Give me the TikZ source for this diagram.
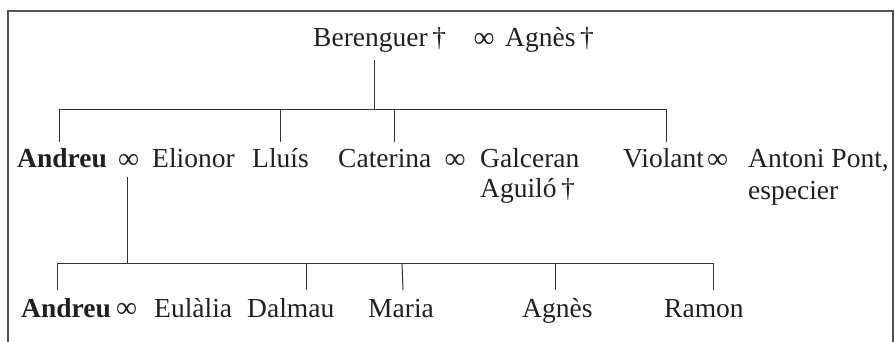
\documentclass[tikz,border=0pt]{standalone}
\usepackage{fontspec}
\setmainfont{Liberation Serif}
\definecolor{txt}{HTML}{231F20}
\definecolor{lnc}{HTML}{333333}
\definecolor{frc}{HTML}{555555}
\newcommand{\marr}{\resizebox{21pt}{!}{∞}}
\begin{document}
\begin{tikzpicture}[x=1pt,y=-1pt,
  nm/.style={anchor=base west,inner sep=0pt,text=txt,font=\fontsize{27.5}{31}\selectfont},
  bn/.style={nm,font=\fontsize{27.5}{31}\selectfont\bfseries},
  inf/.style={anchor=center,inner sep=0pt,text=txt,font=\fontsize{27.5}{31}\selectfont},
  ln/.style={draw=lnc,line width=1pt},
  fr/.style={draw=frc,line width=1.4pt}]
\useasboundingbox (0,0) rectangle (895,342);
% frame
\coordinate (fbl) at (8,342);
\coordinate (ftl) at (8,11);
\coordinate (ftr) at (893,11);
\coordinate (fbr) at (893,342);
\draw[fr] (fbl) -- (ftl) -- (ftr) -- (fbr);
% generation 1
\node[nm] (ber) at (313,47) {Berenguer\,†};
\node[inf] (inf0) at (484,40) {\marr};
\node[nm] (agn0) at (505,47) {Agnès\,†};
% generation 2
\node[bn] (and1) at (17,168) {Andreu};
\node[inf] (inf1) at (128.5,161) {\marr};
\node[nm] (eli) at (152,168) {Elionor};
\node[nm] (llu) at (252,168) {Lluís};
\node[nm] (cat) at (338,168) {Caterina};
\node[inf] (inf2) at (455,161) {\marr};
\node[nm] (gal) at (480,168) {Galceran};
\node[nm] (agu) at (480,198) {Aguiló\,†};
\node[nm] (vio) at (623,168) {Violant};
\node[inf] (inf3) at (717.5,161) {\marr};
\node[nm] (ant) at (748,168) {Antoni Pont,};
\node[nm] (esp) at (748,200) {especier};
% generation 3
\node[bn] (and2) at (21,317) {Andreu};
\node[inf] (inf4) at (126.5,310) {\marr};
\node[nm] (eul) at (154,317) {Eulàlia};
\node[nm] (dal) at (247,317) {Dalmau};
\node[nm] (mar) at (368,317) {Maria};
\node[nm] (agn1) at (522,317) {Agnès};
\node[nm] (ram) at (664,317) {Ramon};
% connectors generation 1 -> 2
\coordinate (s1t) at (374,60);
\coordinate (s1b) at (374,110);
\coordinate (a1t) at (59,110);  \coordinate (a1b) at (59,142);
\coordinate (l1t) at (280,110); \coordinate (l1b) at (280,142);
\coordinate (c1t) at (394,110); \coordinate (c1b) at (394,142);
\coordinate (v1t) at (666,110); \coordinate (v1b) at (666,142);
\draw[ln] (s1t) -- (s1b);
\draw[ln] (a1b) -- (a1t) -- (v1t) -- (v1b);
\draw[ln] (l1t) -- (l1b);
\draw[ln] (c1t) -- (c1b);
% connectors generation 2 -> 3
\coordinate (s2t) at (127,177);
\coordinate (s2b) at (127,263);
\coordinate (a2t) at (57,263);  \coordinate (a2b) at (57,290);
\coordinate (d2t) at (306,263); \coordinate (d2b) at (306,290);
\coordinate (m2t) at (402,263); \coordinate (m2b) at (403,290);
\coordinate (g2t) at (555,263); \coordinate (g2b) at (555,290);
\coordinate (r2t) at (713,263); \coordinate (r2b) at (713,290);
\draw[ln] (s2t) -- (s2b);
\draw[ln] (a2b) -- (a2t) -- (r2t) -- (r2b);
\draw[ln] (d2t) -- (d2b);
\draw[ln] (m2t) -- (m2b);
\draw[ln] (g2t) -- (g2b);
\end{tikzpicture}
\end{document}
